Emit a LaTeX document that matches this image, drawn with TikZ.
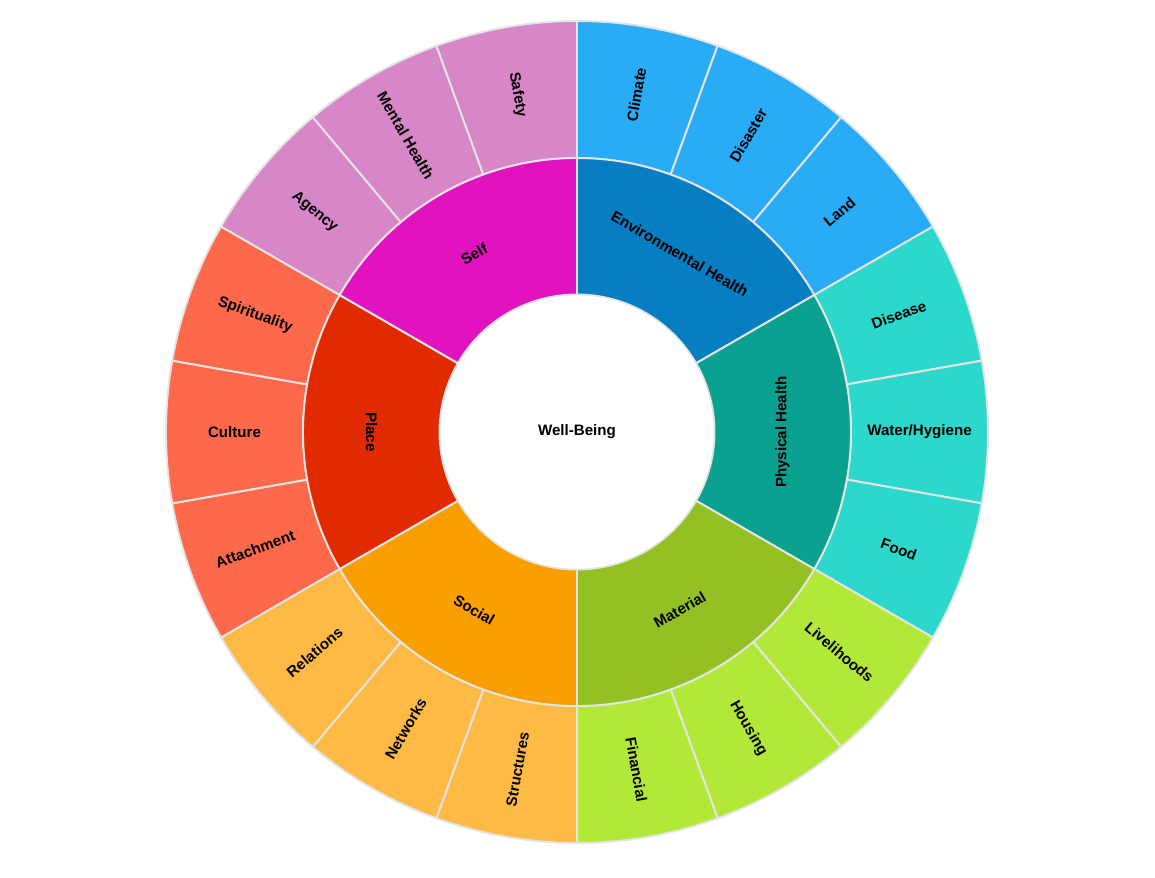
\documentclass[tikz,border=0pt]{standalone}
\usepackage{fontspec}
\setmainfont{Liberation Sans}
\usetikzlibrary{calc}
\definecolor{DBlue}{HTML}{067EC1}
\definecolor{LBlue}{HTML}{29ABF6}
\definecolor{DTeal}{HTML}{0AA190}
\definecolor{LTeal}{HTML}{2BD8CB}
\definecolor{DLime}{HTML}{93C123}
\definecolor{LLime}{HTML}{B2E838}
\definecolor{DOrange}{HTML}{FA9F02}
\definecolor{LOrange}{HTML}{FEBA45}
\definecolor{DRed}{HTML}{E22A00}
\definecolor{LRed}{HTML}{FE694C}
\definecolor{DPink}{HTML}{E113BF}
\definecolor{LPink}{HTML}{D787C8}
\definecolor{SegLine}{HTML}{E4E4E4}
\tikzset{
    seg/.style={draw=SegLine, line width=1.1pt, line join=round},
    lbl/.style={font=\fontsize{8.6}{10}\selectfont\bfseries, text=black, inner sep=0pt}
}
% one ring piece: start angle, end angle, inner radius, outer radius, fill
\NewDocumentCommand{\Segment}{m m m m m}{
    \draw[seg, fill=#5] (#1:#3) arc (#1:#2:#3) -- (#2:#4) arc (#2:#1:#4) -- cycle;
}
\newcommand{\Canvas}{
\useasboundingbox (-577,-445) rectangle (578,432);
\coordinate (center) at (0,0);
}

\begin{document}
\begin{tikzpicture}[x=0.02cm, y=0.02cm]
\Canvas

% outer ring
\Segment{90}{70}{274}{411}{LBlue}
\Segment{70}{50}{274}{411}{LBlue}
\Segment{50}{30}{274}{411}{LBlue}
\Segment{30}{10}{274}{411}{LTeal}
\Segment{10}{-10}{274}{411}{LTeal}
\Segment{-10}{-30}{274}{411}{LTeal}
\Segment{-30}{-50}{274}{411}{LLime}
\Segment{-50}{-70}{274}{411}{LLime}
\Segment{-70}{-90}{274}{411}{LLime}
\Segment{-90}{-110}{274}{411}{LOrange}
\Segment{-110}{-130}{274}{411}{LOrange}
\Segment{-130}{-150}{274}{411}{LOrange}
\Segment{210}{190}{274}{411}{LRed}
\Segment{190}{170}{274}{411}{LRed}
\Segment{170}{150}{274}{411}{LRed}
\Segment{150}{130}{274}{411}{LPink}
\Segment{130}{110}{274}{411}{LPink}
\Segment{110}{90}{274}{411}{LPink}

% inner ring
\Segment{90}{30}{137.5}{274}{DBlue}
\Segment{30}{-30}{137.5}{274}{DTeal}
\Segment{-30}{-90}{137.5}{274}{DLime}
\Segment{-90}{-150}{137.5}{274}{DOrange}
\Segment{210}{150}{137.5}{274}{DRed}
\Segment{150}{90}{137.5}{274}{DPink}
\fill[white] (center) circle (136.5);

\node[lbl] (wellbeing) at (center) {Well-Being};

\node[lbl, rotate=-30] (envhealth) at (60:205.5) {Environmental Health};
\node[lbl, rotate=90] (physhealth) at (0:205.5) {Physical Health};
\node[lbl, rotate=30] (material) at (-60:205.5) {Material};
\node[lbl, rotate=-30] (social) at (-120:205.5) {Social};
\node[lbl, rotate=-90] (place) at (180:205.5) {Place};
\node[lbl, rotate=30] (self) at (120:205.5) {Self};

\node[lbl, rotate=80] (climate) at (80:342.5) {Climate};
\node[lbl, rotate=60] (disaster) at (60:342.5) {Disaster};
\node[lbl, rotate=40] (land) at (40:342.5) {Land};
\node[lbl, rotate=20] (disease) at (20:342.5) {Disease};
\node[lbl] (water) at (0:342.5) {Water/Hygiene};
\node[lbl, rotate=-20] (food) at (-20:342.5) {Food};
\node[lbl, rotate=-40] (livelihoods) at (-40:342.5) {Livelihoods};
\node[lbl, rotate=-60] (housing) at (-60:342.5) {Housing};
\node[lbl, rotate=-80] (financial) at (-80:342.5) {Financial};
\node[lbl, rotate=80] (structures) at (-100:342.5) {Structures};
\node[lbl, rotate=60] (networks) at (-120:342.5) {Networks};
\node[lbl, rotate=40] (relations) at (-140:342.5) {Relations};
\node[lbl, rotate=20] (attachment) at (-160:342.5) {Attachment};
\node[lbl] (culture) at (180:342.5) {Culture};
\node[lbl, rotate=-20] (spirituality) at (160:342.5) {Spirituality};
\node[lbl, rotate=-40] (agency) at (140:342.5) {Agency};
\node[lbl, rotate=-60] (mental) at (120:342.5) {Mental Health};
\node[lbl, rotate=-80] (safety) at (100:342.5) {Safety};
\end{tikzpicture}
\end{document}
